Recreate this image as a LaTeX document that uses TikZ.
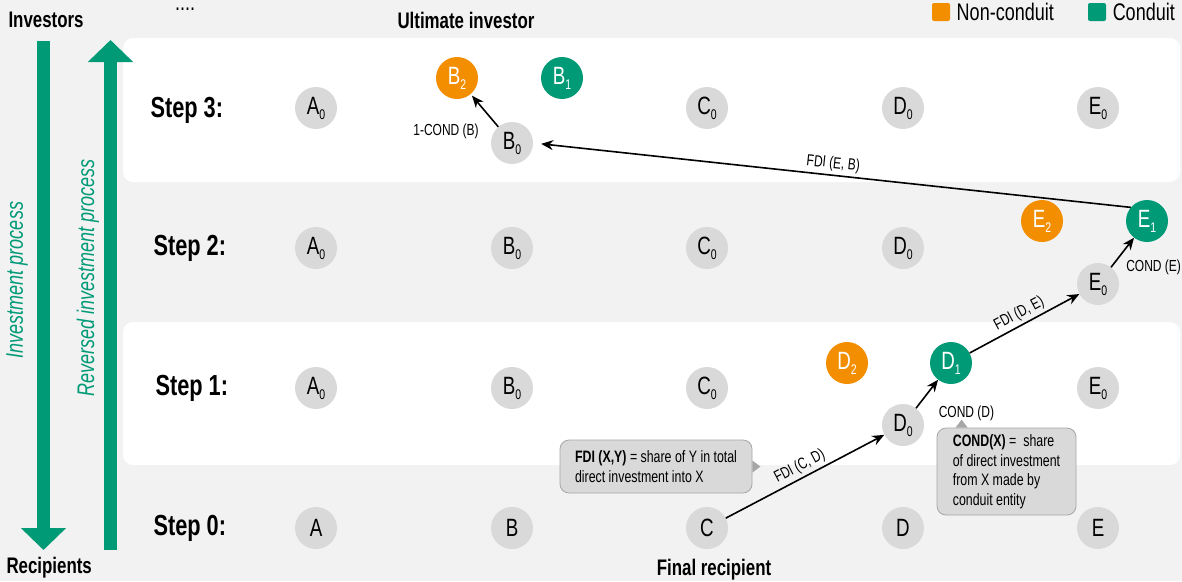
\documentclass[tikz,border=0pt]{standalone}
\usepackage{fontspec}
\setmainfont{Liberation Sans}[FakeStretch=0.75]
\usetikzlibrary{arrows.meta, positioning}

\definecolor{conduit}{HTML}{009A77}
\definecolor{noncond}{HTML}{F28E00}
\definecolor{nodegray}{HTML}{D9D9D9}
\definecolor{bggray}{HTML}{F2F2F2}
\definecolor{boxline}{HTML}{A6A6A6}

\newcommand{\lowsub}[1]{\raisebox{-5pt}{\fontsize{14}{14}\selectfont #1}}

\begin{document}
\begin{tikzpicture}[
        x=1pt, y=-1pt,
        ent/.style={circle, fill=nodegray, minimum size=42pt, inner sep=0pt, font=\fontsize{25}{27}\selectfont},
        nc/.style={ent, fill=noncond, text=white},
        cd/.style={ent, fill=conduit, text=white},
        arrow/.style={-{Stealth[length=12pt, width=10pt]}, line width=1.6pt},
        flow/.style={font=\fontsize{16}{18}\selectfont, inner sep=3pt},
        steplabel/.style={anchor=west, font=\bfseries\fontsize{29}{32}\selectfont},
        head/.style={font=\bfseries\fontsize{22.5}{26}\selectfont},
        process/.style={rotate=90, text=conduit, font=\itshape\fontsize{24}{26}\selectfont},
        bigarrow/.style={conduit, line width=13pt, -{Triangle[length=22pt, width=44pt]}},
        infobox/.style={fill=nodegray, draw=boxline, line width=0.8pt, rounded corners=9pt, align=left, font=\fontsize{16.5}{19.5}\selectfont},
        legbox/.style={minimum size=18pt, inner sep=0pt, rounded corners=2pt}
    ]

    % Background and bands
    \fill[bggray] (0,0) rectangle (1182,581);
    \useasboundingbox (0,0) rectangle (1182,581);
    \fill[white, rounded corners=10pt] (123,38) rectangle (1180,182);
    \fill[white, rounded corners=10pt] (123,322) rectangle (1180,465);

    % Process arrows
    \coordinate (dtop) at (43.5,41);
    \coordinate (dtip) at (43.5,550);
    \coordinate (ubot) at (110.5,550);
    \coordinate (utip) at (110.5,40);
    \draw[bigarrow] (dtop) -- (dtip);
    \draw[bigarrow] (ubot) -- (utip);
    \node[process] (inv) at (17,280) {Investment process};
    \node[process] (rev) at (88,278) {Reversed investment process};

    % Headings
    \node[head, anchor=west] (investors) at (5,20) {Investors};
    \node[head, anchor=west] (recipients) at (3,568) {Recipients};
    \node[head] (ultimate) at (466,20) {Ultimate investor};
    \node[head] (final) at (714,570) {Final recipient};
    \node[font=\fontsize{24}{24}\selectfont, anchor=base, inner sep=0pt] (dots) at (185,10) {....};

    % Legend
    \node[legbox, fill=noncond] (legn) at (941,12) {};
    \node[font=\fontsize{24}{26}\selectfont, right=3pt of legn] (legntext) {Non-conduit};
    \node[legbox, fill=conduit] (legc) at (1097,12) {};
    \node[font=\fontsize{24}{26}\selectfont, right=3pt of legc] (legctext) {Conduit};

    % Step labels
    \node[steplabel] (s3) at (147,110) {Step 3:};
    \node[steplabel] (s2) at (150,248) {Step 2:};
    \node[steplabel] (s1) at (152,388) {Step 1:};
    \node[steplabel] (s0) at (150,528) {Step 0:};

    % Step 3
    \node[ent] (a3) at (316,108) {A\lowsub{0}};
    \node[nc]  (b3n) at (457,78) {B\lowsub{2}};
    \node[cd]  (b3c) at (562,78) {B\lowsub{1}};
    \node[ent] (b3) at (512,143) {B\lowsub{0}};
    \node[ent] (c3) at (707,108) {C\lowsub{0}};
    \node[ent] (d3) at (903,108) {D\lowsub{0}};
    \node[ent] (e3) at (1098,108) {E\lowsub{0}};

    % Step 2
    \node[ent] (a2) at (316,248) {A\lowsub{0}};
    \node[ent] (b2) at (512,248) {B\lowsub{0}};
    \node[ent] (c2) at (707,248) {C\lowsub{0}};
    \node[ent] (d2) at (903,248) {D\lowsub{0}};
    \node[nc]  (e2n) at (1042,221) {E\lowsub{2}};
    \node[cd]  (e2c) at (1147,221) {E\lowsub{1}};
    \node[ent] (e2) at (1098,284) {E\lowsub{0}};

    % Step 1
    \node[ent] (a1) at (316,388) {A\lowsub{0}};
    \node[ent] (b1) at (512,388) {B\lowsub{0}};
    \node[ent] (c1) at (707,388) {C\lowsub{0}};
    \node[nc]  (d1n) at (847,363) {D\lowsub{2}};
    \node[cd]  (d1c) at (951,363) {D\lowsub{1}};
    \node[ent] (d1) at (903,425) {D\lowsub{0}};
    \node[ent] (e1) at (1098,388) {E\lowsub{0}};

    % Step 0
    \node[ent] (a0) at (316,528) {A};
    \node[ent] (b0) at (512,528) {B};
    \node[ent] (c0) at (707,528) {C};
    \node[ent] (d0) at (903,528) {D};
    \node[ent] (e0) at (1098,528) {E};

    % Investment chain
    \draw[arrow] (c0) -- node[flow, above, sloped] {FDI (C, D)} (d1);
    \draw[arrow] (d1) -- node[flow, below right, xshift=8pt, yshift=-8pt] {COND (D)} (d1c);
    \draw[arrow] (d1c) -- node[flow, above, sloped] {FDI (D, E)} (e2);
    \draw[arrow] (e2) -- node[flow, below right, xshift=0pt, yshift=-4pt] {COND (E)} (e2c);
    \draw[arrow, shorten >=8pt] (e2c.140) -- node[flow, above, sloped] {FDI (E, B)} (b3.east);
    \draw[arrow, shorten >=2pt] (b3) -- node[flow, below left, xshift=-2pt, yshift=-10pt] {1-COND (B)} (b3n);

    % Definitions
    \node[infobox, minimum width=192pt, minimum height=53pt] (fdibox) at (656,466.5)
        {\textbf{FDI (X,Y)} = share of Y in total\\direct investment into X};
    \fill[boxline] ([yshift=6pt]fdibox.east) -- ([xshift=8pt]fdibox.east) -- ([yshift=-6pt]fdibox.east) -- cycle;
    \node[infobox, minimum width=139pt, minimum height=87pt] (condbox) at (1006.5,471.5)
        {\textbf{COND(X)} =\ \ share\\of direct investment\\from X made by\\conduit entity};
    \fill[boxline] ([xshift=19pt]condbox.north west) -- ([xshift=25pt, yshift=8pt]condbox.north west) -- ([xshift=31pt]condbox.north west) -- cycle;

\end{tikzpicture}
\end{document}
